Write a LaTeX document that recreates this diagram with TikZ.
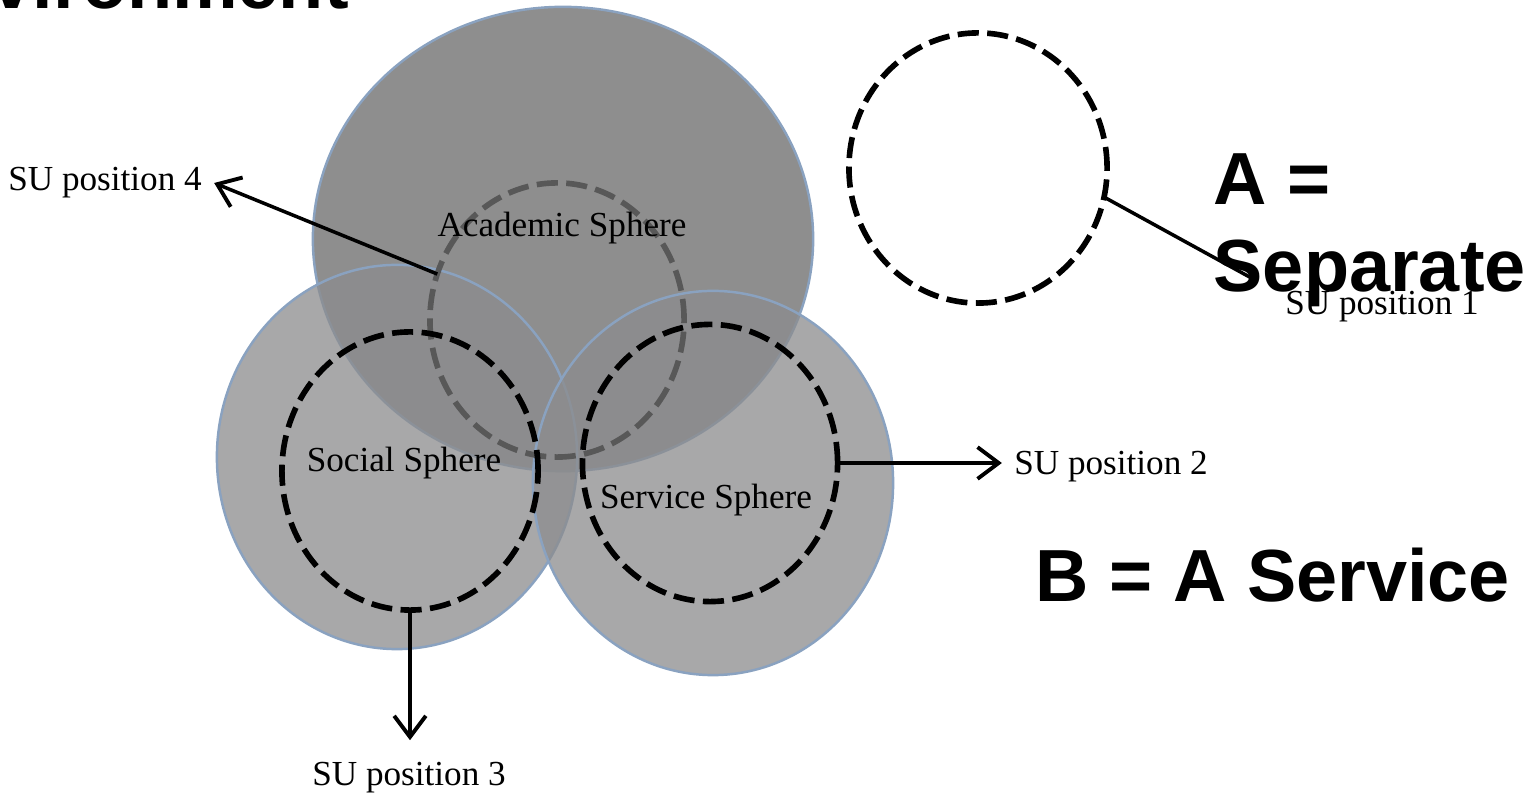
\documentclass[tikz,border=0pt]{standalone}
\usepackage{fontspec}
\setmainfont{Liberation Serif}
\newfontfamily\headfont{Liberation Sans}
\usetikzlibrary{positioning}
\usetikzlibrary{arrows.meta}
\usetikzlibrary{shapes.geometric}

\definecolor{acadgray}{RGB}{142,142,142}
\definecolor{discgray}{RGB}{140,140,142}
\definecolor{discedge}{RGB}{138,162,192}
\definecolor{ringgray}{RGB}{88,88,88}

\begin{document}
\begin{tikzpicture}[x=0.01cm,y=-0.01cm,
    disc/.style={fill=discgray,fill opacity=0.76,draw=discedge,line width=0.7pt},
    ring/.style={ellipse,draw=black,line width=1.6pt,dash pattern=on 6pt off 2.4pt,
        inner sep=0pt,outer sep=0pt},
    sphere/.style={font=\fontsize{10}{12}\selectfont},
    sulabel/.style={font=\fontsize{10}{12}\selectfont},
    headline/.style={font=\headfont\bfseries\fontsize{21}{24}\selectfont,inner sep=0pt},
    suarrow/.style={-{Straight Barb[length=6pt,width=9pt,line width=1.1pt]},line width=1pt}]

        \useasboundingbox (0,0) rectangle (1531,798);
        \clip (0,0) rectangle (1531,798);

        % the three spheres
        \path[fill=acadgray,draw=discedge,line width=0.7pt]
        (563,239) ellipse [x radius=2.5cm, y radius=2.32cm];
        \path[disc] (397,457) ellipse [x radius=1.8cm, y radius=1.92cm];
        \path[disc] (713,483) ellipse [x radius=1.8cm, y radius=1.92cm];

        % SU positions
        \node[ring,draw=ringgray,minimum width=2.54cm,minimum height=2.74cm]
        (acadring) at (557,320) {};
        \node[ring,minimum width=2.56cm,minimum height=2.78cm] (socialring) at (410,471) {};
        \node[ring,minimum width=2.55cm,minimum height=2.77cm] (servring) at (710,463) {};
        \node[ring,minimum width=2.58cm,minimum height=2.7cm] (aloofring) at (978,168) {};

        \node[sphere] (acadlabel) at (562,228) {Academic Sphere};
        \node[sphere] (sociallabel) at (404,463) {Social Sphere};
        \node[sphere] (servlabel) at (706,500) {Service Sphere};

        \node[sulabel] (su4) at (105,183) {SU position 4};
        \node[sulabel] (su2) at (1111,467) {SU position 2};
        \node[sulabel] (su3) at (409,778) {SU position 3};
        \node[sulabel] (su1) at (1382,307) {SU position 1};

        \draw[suarrow] (acadring.159) -- (su4.east);
        \draw[suarrow] (servring.east) -- (servring.east -| su2.west);
        \draw[suarrow,shorten >=0.1cm] (socialring.south) -- (socialring.south |- su3.north);
        \coordinate (su1end) at (1255,280);
        \draw[line width=1pt] (aloofring.-13) -- (su1end);

        % slide text
        \node[headline,anchor=base west] (envtitle) at (-9,9) {vironment};
        \node[headline,anchor=base west] (aeq) at (1213,205) {A =};
        \node[headline,anchor=base west] (separate) at (1213,292) {Separate};
        \node[headline,anchor=base west] (beq) at (1035,602) {B = A Service};
    \end{tikzpicture}
\end{document}
